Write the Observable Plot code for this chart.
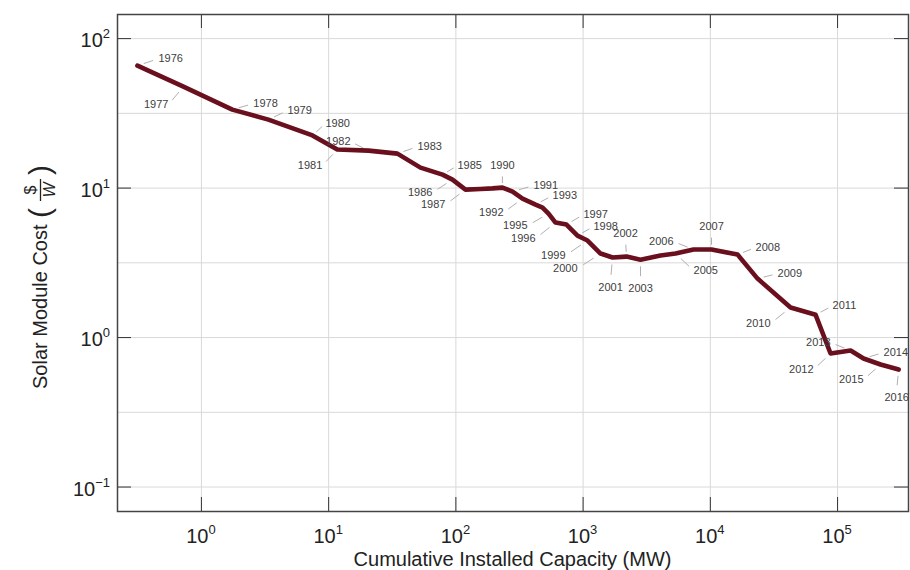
<!DOCTYPE html>
<html>
<head>
<meta charset="utf-8">
<script src="https://cdn.jsdelivr.net/npm/d3@7"></script>
<script src="https://cdn.jsdelivr.net/npm/@observablehq/plot@0.6"></script>
<style>
  body { margin: 0; background: #fff; }
  #chart svg { display: block; }
</style>
</head>
<body>
<div id="chart"></div>
<script>
// Solar PV module cost against cumulative installed capacity, 1976–2016
const years = [
  1976, 1977, 1978, 1979, 1980, 1981, 1982, 1983, 1984, 1985, 1986,
  1987, 1988, 1989, 1990, 1991, 1992, 1993, 1994, 1995, 1996,
  1997, 1998, 1999, 2000, 2001, 2002, 2003, 2004, 2005, 2006,
  2007, 2008, 2009, 2010, 2011, 2012, 2013, 2014, 2015, 2016
];
const capacityMW = [
  0.314, 0.722, 1.75, 3.36, 7.46, 11.7, 20.6, 34.7, 52.7, 78.5, 94.0,
  119, 156, 194, 232, 279, 334, 423, 480, 535, 607,
  740, 903, 1083, 1371, 1703, 2194, 2826, 4058, 5325, 7380,
  10220, 16360, 23500, 42700, 67200, 88100, 126600, 160000, 217800, 302000
];
const costPerWatt = [
  65.9, 47.7, 33.5, 28.7, 22.5, 18.1, 17.8, 17.0, 13.7, 12.3, 11.4,
  9.77, 9.85, 9.95, 10.07, 9.48, 8.51, 7.76, 7.41, 6.75, 5.88,
  5.70, 4.81, 4.46, 3.65, 3.43, 3.48, 3.32, 3.54, 3.65, 3.88,
  3.88, 3.59, 2.48, 1.59, 1.42, 0.782, 0.819, 0.724, 0.660, 0.611
];
const xTickExponents = [0, 1, 2, 3, 4, 5];
const yTickExponents = [-1, 0, 1, 2];
const yGridExponents = [-1, -0.5, 0, 0.5, 1, 1.5, 2];

// Year-label placement: pixel offset from the point and text anchor
const labelPlacement = {
  1976: [21, -7, "start"], 1977: [-15, 18, "end"], 1978: [21, -6, "start"],
  1979: [19, -9, "start"], 1980: [13, -12, "start"], 1981: [-15, 16, "end"],
  1982: [-18, -9, "end"], 1983: [20, -7, "start"], 1985: [15, -9, "start"],
  1986: [-20, 13, "end"], 1987: [-20, 15, "end"], 1990: [0, -22, "middle"],
  1991: [21, -6, "start"], 1992: [-19, 14, "end"], 1993: [17, -9, "start"],
  1995: [-21, 12, "end"], 1996: [-20, 16, "end"], 1997: [17, -10, "start"],
  1998: [16, -9, "start"], 1999: [-22, 15, "end"], 2000: [-23, 15, "end"],
  2001: [-2, 30, "middle"], 2002: [-1, -23, "middle"], 2003: [0, 29, "middle"],
  2005: [18, 17, "start"], 2006: [-20, -8, "end"], 2007: [0, -23, "middle"],
  2008: [18, -7, "start"], 2009: [20, -5, "start"], 2010: [-20, 16, "end"],
  2011: [17, -9, "start"], 2012: [-17, 16, "end"], 2013: [-20, -8, "end"],
  2014: [20, -6, "start"], 2015: [-17, 15, "end"], 2016: [-2, 28, "middle"]
};

const W = 910, H = 570;
const margin = {left: 117, right: 2, top: 14, bottom: 59};
const plotW = W - margin.left - margin.right;
const plotH = H - margin.top - margin.bottom;
const xDomain = [0.219, 361000];
const yDomain = [0.0686, 145];
const pxPerDecadeX = plotW / Math.log10(xDomain[1] / xDomain[0]);
const pxPerDecadeY = plotH / Math.log10(yDomain[1] / yDomain[0]);
const tickLen = 14;

const data = years.map((year, i) => ({year, x: capacityMW[i], y: costPerWatt[i]}));

// move a point by a pixel offset on the log–log axes
function shifted(d, dxPx, dyPx) {
  return {
    x: d.x * Math.pow(10, dxPx / pxPerDecadeX),
    y: d.y * Math.pow(10, -dyPx / pxPerDecadeY)
  };
}

const labelRows = data.filter(d => labelPlacement[d.year]).map(d => {
  const [dx, dy, anchor] = labelPlacement[d.year];
  const t = shifted(d, dx, dy);
  const lv = anchor === "middle" ? [dx, dy - Math.sign(dy) * 7] : [dx, dy];
  const a = shifted(d, lv[0] * 0.3, lv[1] * 0.3);
  const b = shifted(d, lv[0] * 0.75, lv[1] * 0.75);
  return {year: d.year, anchor, tx: t.x, ty: t.y, x1: a.x, y1: a.y, x2: b.x, y2: b.y};
});

const xTicks = xTickExponents.map(e => Math.pow(10, e));
const yTicks = yTickExponents.map(e => Math.pow(10, e));
const yGrid = yGridExponents.map(e => Math.pow(10, e));

const plot = Plot.plot({
  width: W,
  height: H,
  marginLeft: margin.left,
  marginRight: margin.right,
  marginTop: margin.top,
  marginBottom: margin.bottom,
  style: {fontFamily: "'Liberation Sans', Arial, sans-serif", background: "#fff"},
  x: {type: "log", domain: xDomain, axis: null},
  y: {type: "log", domain: yDomain, axis: null},
  marks: [
    Plot.ruleX(xTicks, {stroke: "#d9d9d9", strokeWidth: 1}),
    Plot.ruleY(yGrid, {stroke: "#d9d9d9", strokeWidth: 1}),
    Plot.link(labelRows, {x1: "x1", y1: "y1", x2: "x2", y2: "y2", stroke: "#b0b0b0", strokeWidth: 1}),
    Plot.line(data, {x: "x", y: "y", stroke: "#6a0f1d", strokeWidth: 4.6, strokeLinejoin: "round", strokeLinecap: "round"}),
    ...["start", "end", "middle"].map(anchor =>
      Plot.text(labelRows.filter(r => r.anchor === anchor), {
        x: "tx", y: "ty", text: d => String(d.year),
        textAnchor: anchor, fontSize: 11, fill: "#404040"
      })
    ),
    Plot.ruleX(xTicks, {insetTop: plotH - tickLen, stroke: "#333"}),
    Plot.ruleX(xTicks, {insetBottom: plotH - tickLen, stroke: "#333"}),
    Plot.ruleY(yTicks, {insetRight: plotW - tickLen, stroke: "#333"}),
    Plot.ruleY(yTicks, {insetLeft: plotW - tickLen, stroke: "#333"}),
    Plot.frame({stroke: "#444", strokeWidth: 1.5})
  ]
});

document.getElementById("chart").appendChild(plot);

const sx = plot.scale("x"), sy = plot.scale("y");
const svg = d3.select(plot);
const font = "'Liberation Sans', Arial, sans-serif";

// power-of-ten tick labels
function powerLabel(g, x, y, exp, anchor) {
  const t = g.append("text").attr("x", x).attr("y", y)
    .attr("text-anchor", anchor).attr("fill", "#222").attr("font-family", font);
  t.append("tspan").attr("font-size", 20).text("10");
  t.append("tspan").attr("font-size", 13).attr("dy", -9).text(exp < 0 ? "\u2212" + (-exp) : String(exp));
}
const axes = svg.append("g");
xTickExponents.forEach(e => powerLabel(axes, sx.apply(Math.pow(10, e)), 543, e, "middle"));
yTickExponents.forEach(e => powerLabel(axes, 110, sy.apply(Math.pow(10, e)) + 9, e, "end"));

// x-axis title
axes.append("text")
  .attr("x", margin.left + plotW / 2).attr("y", 566)
  .attr("text-anchor", "middle").attr("font-size", 20)
  .attr("fill", "#222").attr("font-family", font)
  .text("Cumulative Installed Capacity (MW)");

// y-axis title: "Solar Module Cost ($/W)" with a stacked fraction, written bottom to top
const gy = axes.append("g").attr("fill", "#222").attr("font-family", font)
  .attr("text-anchor", "start")
  .attr("transform", "translate(47,389) rotate(-90)");
gy.append("text").attr("font-size", 20).attr("x", 0).attr("y", 0).text("Solar Module Cost");
gy.append("text").attr("font-size", 30).attr("x", 171).attr("y", 3).text("(");
gy.append("text").attr("font-size", 16).attr("x", 199).attr("y", -11)
  .attr("text-anchor", "middle").text("$");
gy.append("text").attr("font-size", 16).attr("font-style", "italic").attr("x", 199).attr("y", 8)
  .attr("text-anchor", "middle").text("W");
gy.append("line").attr("x1", 188).attr("x2", 210).attr("y1", -6.5).attr("y2", -6.5)
  .attr("stroke", "#222").attr("stroke-width", 1.3);
gy.append("text").attr("font-size", 30).attr("x", 214).attr("y", 3).text(")");
</script>
</body>
</html>
